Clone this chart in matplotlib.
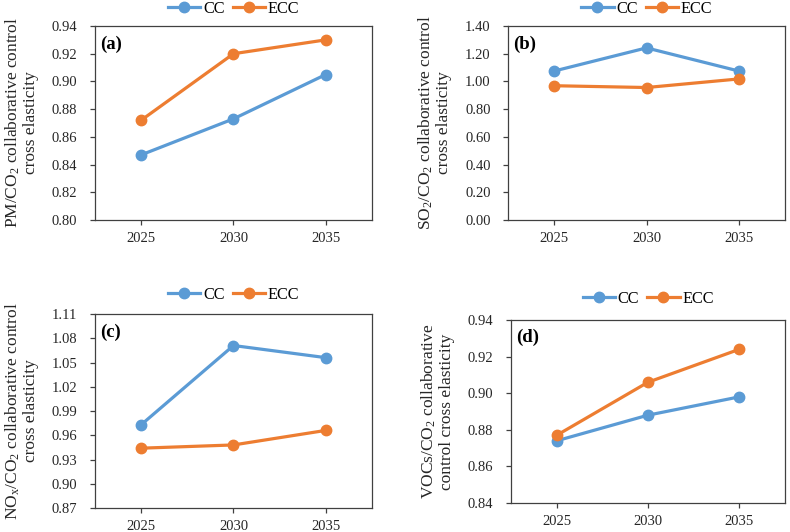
import matplotlib
matplotlib.use("Agg")
import matplotlib.pyplot as plt

plt.rcParams['font.family'] = ['Liberation Serif', 'DejaVu Serif']
plt.rcParams['mathtext.fontset'] = 'custom'
plt.rcParams['mathtext.rm'] = 'Liberation Serif'
plt.rcParams['mathtext.it'] = 'Liberation Serif:italic'

years = ['2025', '2030', '2035']
series_names = ['CC', 'ECC']

pm_cc = [0.847, 0.873, 0.905]
pm_ecc = [0.872, 0.920, 0.930]
so2_cc = [1.075, 1.242, 1.075]
so2_ecc = [0.969, 0.956, 1.018]
nox_cc = [0.973, 1.071, 1.056]
nox_ecc = [0.944, 0.948, 0.966]
voc_cc = [0.874, 0.888, 0.898]
voc_ecc = [0.877, 0.906, 0.924]

ylabels = [
    'PM/CO$_{\\mathrm{2}}$ collaborative control\ncross elasticity',
    'SO$_{\\mathrm{2}}$/CO$_{\\mathrm{2}}$ collaborative control\ncross elasticity',
    'NO$_{\\mathrm{x}}$/CO$_{\\mathrm{2}}$ collaborative control\ncross elasticity',
    'VOCs/CO$_{\\mathrm{2}}$ collaborative\ncontrol cross elasticity',
]
panel_tags = ['(a)', '(b)', '(c)', '(d)']
ylims = [(0.80, 0.94), (0.0, 1.40), (0.87, 1.11), (0.84, 0.94)]
ysteps = [0.02, 0.20, 0.03, 0.02]

W, H = 790, 532
fig = plt.figure(figsize=(W / 100, H / 100), dpi=100)

# axes boxes in pixels: left, top, right, bottom
boxes = [(95, 26, 372, 220), (508, 26, 785, 220), (95, 314, 372, 508), (511, 320, 785, 503)]
legend_off = [17, 17, 19, 21]

blue = '#5B9BD5'
orange = '#ED7D31'
spine_c = '#404040'

data = [(pm_cc, pm_ecc), (so2_cc, so2_ecc), (nox_cc, nox_ecc), (voc_cc, voc_ecc)]

for i in range(4):
    l, t, r, b = boxes[i]
    ax = fig.add_axes([l / W, 1 - b / H, (r - l) / W, (b - t) / H])
    x = list(range(len(years)))
    cc, ecc = data[i]
    ax.plot(x, cc, color=blue, lw=2.3, marker='o', ms=7.5, label=series_names[0])
    ax.plot(x, ecc, color=orange, lw=2.3, marker='o', ms=7.5, label=series_names[1])
    ax.set_xlim(-0.5, len(years) - 0.5)
    ax.set_xticks(x)
    ax.set_xticklabels(years)
    lo, hi = ylims[i]
    n = int(round((hi - lo) / ysteps[i]))
    ticks = [lo + k * ysteps[i] for k in range(n + 1)]
    ax.set_ylim(lo, hi)
    ax.set_yticks(ticks)
    ax.set_yticklabels(['%.2f' % v for v in ticks])
    for s in ax.spines.values():
        s.set_color(spine_c)
        s.set_linewidth(0.9)
    ax.tick_params(axis='both', direction='out', length=3.6, width=0.9, color=spine_c,
                   labelsize=10.5, labelcolor='#262626')
    ax.tick_params(axis='x', pad=5)
    ax.tick_params(axis='y', pad=9)
    ax.set_ylabel(ylabels[i], fontsize=12.5, color='#262626', labelpad=9, linespacing=1.1)
    ax.text(0.02, 0.95, panel_tags[i], transform=ax.transAxes, fontsize=13.5,
            fontweight='bold', va='top', ha='left')
    ax.legend(loc='center', bbox_to_anchor=(0.5, 1 + legend_off[i] / (b - t)), ncol=2,
              frameon=False, fontsize=11.7, handlelength=2.0, handletextpad=0.15,
              columnspacing=0.5, borderaxespad=0, borderpad=0)

fig.savefig('out.png', dpi=100)
